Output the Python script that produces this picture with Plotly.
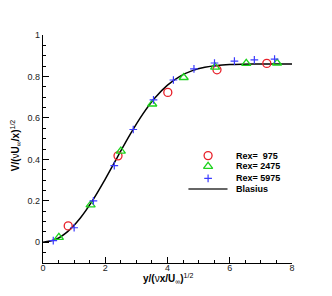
import plotly.graph_objects as go

# Blasius solution: eta and 0.5*(eta*f' - f)
blasius_eta = [0.0, 0.4, 0.8, 1.2, 1.6, 2.0, 2.4, 2.8, 3.2, 3.6, 4.0, 4.4, 4.8,
               5.2, 5.6, 6.0, 6.4, 6.8, 7.2, 7.6, 8.0]
blasius_v = [0.0, 0.0133, 0.0528, 0.1173, 0.2032, 0.3048, 0.4136, 0.5206, 0.6172,
             0.6972, 0.7582, 0.8007, 0.8280, 0.8441, 0.8528, 0.8571, 0.8591,
             0.8599, 0.8602, 0.8603, 0.8604]

re975_x = [0.81, 2.41, 4.01, 5.59, 7.19]
re975_y = [0.079, 0.417, 0.723, 0.832, 0.863]

re2475_x = [0.51, 1.53, 2.50, 3.51, 4.52, 5.53, 6.53, 7.52]
re2475_y = [0.024, 0.180, 0.440, 0.667, 0.795, 0.845, 0.863, 0.865]

re5975_x = [0.33, 1.00, 1.62, 2.29, 2.90, 3.55, 4.19, 4.85, 5.51, 6.15, 6.79, 7.44]
re5975_y = [0.008, 0.070, 0.200, 0.370, 0.544, 0.687, 0.783, 0.837, 0.865, 0.874, 0.880, 0.884]

legend_labels = ["Rex=\u00a0 975", "Rex= 2475", "Rex= 5975", "Blasius"]

x_title = "<b>y/(</b>ν<b>x/U</b><sub>∞</sub><b>)</b><sup>1/2</sup>"
y_title = "<b>V/(</b>ν<b>U</b><sub>∞</sub><b>/x)</b><sup>1/2</sup>"

RED = "#e8202a"
GREEN = "#1ed21e"
BLUE = "#3a3aff"
FONT = "Liberation Sans, Arial, sans-serif"

circle_m = dict(symbol="circle-open", size=8, color=RED, line=dict(width=1.3, color=RED))
tri_m = dict(symbol="triangle-up-open", size=8, color=GREEN, line=dict(width=1.3, color=GREEN))
cross_m = dict(symbol="cross-thin-open", size=5.5, color=BLUE, line=dict(width=1.2, color=BLUE))

fig = go.Figure()
fig.add_trace(go.Scatter(x=blasius_eta, y=blasius_v, mode="lines",
                         line=dict(color="black", width=1.5, shape="spline"),
                         showlegend=False))
fig.add_trace(go.Scatter(x=re975_x, y=re975_y, mode="markers", marker=circle_m, showlegend=False))
fig.add_trace(go.Scatter(x=re2475_x, y=re2475_y, mode="markers", marker=tri_m, showlegend=False))
fig.add_trace(go.Scatter(x=re5975_x, y=re5975_y, mode="markers", marker=cross_m, showlegend=False))

# custom compact legend on an overlay axis (0..1 = plot area)
leg_x = 0.663
leg_rows = [0.471, 0.424, 0.371, 0.325]
fig.add_trace(go.Scatter(x=[leg_x], y=[leg_rows[0]], xaxis="x2", yaxis="y2", mode="markers",
                         marker=circle_m, showlegend=False))
fig.add_trace(go.Scatter(x=[leg_x], y=[leg_rows[1]], xaxis="x2", yaxis="y2", mode="markers",
                         marker=tri_m, showlegend=False))
fig.add_trace(go.Scatter(x=[leg_x], y=[leg_rows[2]], xaxis="x2", yaxis="y2", mode="markers",
                         marker=cross_m, showlegend=False))
fig.add_trace(go.Scatter(x=[0.584, 0.741], y=[leg_rows[3], leg_rows[3]], xaxis="x2", yaxis="y2",
                         mode="lines", line=dict(color="#333333", width=1.5), showlegend=False))

annotations = []
for lab, yy in zip(legend_labels, leg_rows):
    annotations.append(dict(x=0.768, y=yy, xref="paper", yref="paper", text="<b>%s</b>" % lab,
                            showarrow=False, xanchor="left", yanchor="middle",
                            font=dict(family=FONT, size=9, color="black")))
annotations.append(dict(x=0.502, y=-0.066, xref="paper", yref="paper", text=x_title,
                        showarrow=False, xanchor="center", yanchor="middle",
                        font=dict(family=FONT, size=10, color="black")))
annotations.append(dict(x=-0.11, y=0.515, xref="paper", yref="paper", text=y_title,
                        showarrow=False, xanchor="center", yanchor="middle", textangle=-90,
                        font=dict(family=FONT, size=10, color="black")))

fig.update_layout(
    width=332, height=296,
    margin=dict(l=43, r=40, t=35, b=33),
    paper_bgcolor="white", plot_bgcolor="white",
    font=dict(family=FONT, size=9, color="black"),
    annotations=annotations,
    xaxis=dict(range=[0, 8], dtick=2, tick0=0, ticks="inside", ticklen=6, tickwidth=1.2,
               tickcolor="black", showline=True, linecolor="black", linewidth=1.2,
               showgrid=False, zeroline=False, automargin=False, ticklabelstandoff=-4,
               minor=dict(dtick=0.5, ticks="inside", ticklen=3, tickcolor="black", tickwidth=1),
               tickfont=dict(size=9, family=FONT, color="#222222")),
    yaxis=dict(range=[-0.1, 1], dtick=0.2, tick0=0, ticks="inside", ticklen=6, tickwidth=1.2,
               tickcolor="black", showline=True, linecolor="black", linewidth=1.2,
               showgrid=False, zeroline=False, automargin=False,
               minor=dict(dtick=0.05, ticks="inside", ticklen=3, tickcolor="black", tickwidth=1),
               tickfont=dict(size=9, family=FONT, color="#222222")),
    xaxis2=dict(range=[0, 1], overlaying="x", visible=False, domain=[0, 1]),
    yaxis2=dict(range=[0, 1], overlaying="y", visible=False, domain=[0, 1]),
)

fig.write_html("out.html", config={"displayModeBar": False},
               post_script="document.body.style.margin='0';document.body.style.padding='0';")
